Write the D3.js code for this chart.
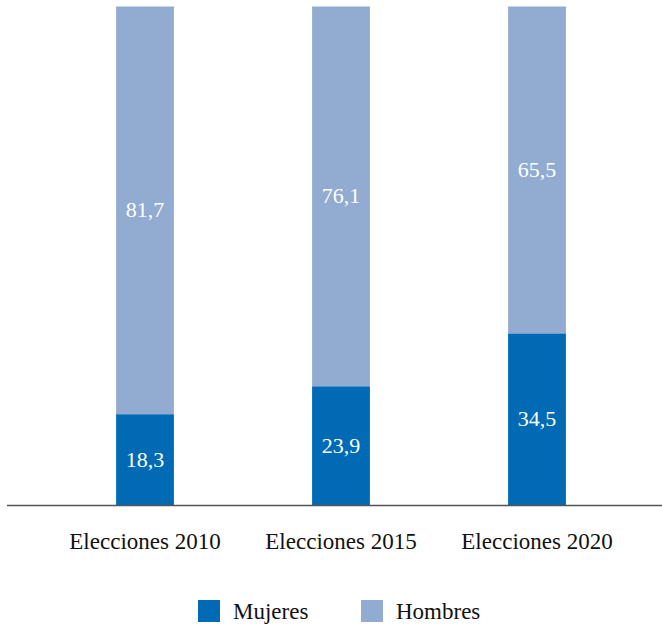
<!DOCTYPE html>
<html>
<head>
<meta charset="utf-8">
<script src="https://cdn.jsdelivr.net/npm/d3@7"></script>
<style>
  html, body { margin: 0; padding: 0; background: #fff; }
</style>
</head>
<body>
<svg id="chart" width="662" height="625"></svg>
<script>
// Share of seats by sex, per election (%)
const categories = ["Elecciones 2010", "Elecciones 2015", "Elecciones 2020"];
const mujeres = [18.3, 23.9, 34.5];
const hombres = [81.7, 76.1, 65.5];
const seriesNames = ["Mujeres", "Hombres"];
const colors = ["#006ab4", "#92abd1"];

const SERIF = "'Liberation Serif'";
const svg = d3.select("#chart");
const fmt = v => d3.format(".1f")(v).replace(".", ",");

const x = d3.scaleBand()
  .domain(categories)
  .range([47, 635])
  .paddingInner(0.705)
  .paddingOuter(0.3525);

const y = d3.scaleLinear().domain([0, 100]).range([505.5, 6.5]);

const rows = categories.map((c, i) => ({ cat: c, Mujeres: mujeres[i], Hombres: hombres[i] }));
const stacked = d3.stack().keys(seriesNames)(rows);

// Stacked bars
stacked.forEach((layer, li) => {
  svg.selectAll(null)
    .data(layer)
    .join("rect")
    .attr("fill", colors[li])
    .attr("x", d => x(d.data.cat))
    .attr("width", x.bandwidth())
    .attr("y", d => y(d[1]))
    .attr("height", d => y(d[0]) - y(d[1]));
});

// Value labels centred in each segment
stacked.forEach(layer => {
  svg.selectAll(null)
    .data(layer)
    .join("text")
    .attr("x", d => x(d.data.cat) + x.bandwidth() / 2)
    .attr("y", d => (y(d[0]) + y(d[1])) / 2)
    .attr("dy", "0.32em")
    .attr("text-anchor", "middle")
    .attr("fill", "#fff")
    .attr("font-size", 22)
    .style("font-family", SERIF)
    .text(d => fmt(d.data[layer.key]));
});

// Baseline
svg.append("line")
  .attr("x1", 7).attr("x2", 662)
  .attr("y1", y(0)).attr("y2", y(0))
  .attr("stroke", "#555").attr("stroke-width", 1.3);

// Category labels under each bar
svg.selectAll(null)
  .data(categories)
  .join("text")
  .attr("x", d => x(d) + x.bandwidth() / 2)
  .attr("y", y(0) + 43.5)
  .attr("text-anchor", "middle")
  .attr("fill", "#111")
  .attr("font-size", 23)
  .style("font-family", SERIF)
  .text(d => d);

// Legend
const legendX = [198, 361];
svg.selectAll(null)
  .data(seriesNames)
  .join("rect")
  .attr("x", (d, i) => legendX[i]).attr("y", 600)
  .attr("width", 22).attr("height", 22)
  .attr("fill", (d, i) => colors[i]);
svg.selectAll(null)
  .data(seriesNames)
  .join("text")
  .attr("x", (d, i) => legendX[i] + 35).attr("y", 619)
  .attr("fill", "#111")
  .attr("font-size", 23)
  .style("font-family", SERIF)
  .text(d => d);
</script>
</body>
</html>
